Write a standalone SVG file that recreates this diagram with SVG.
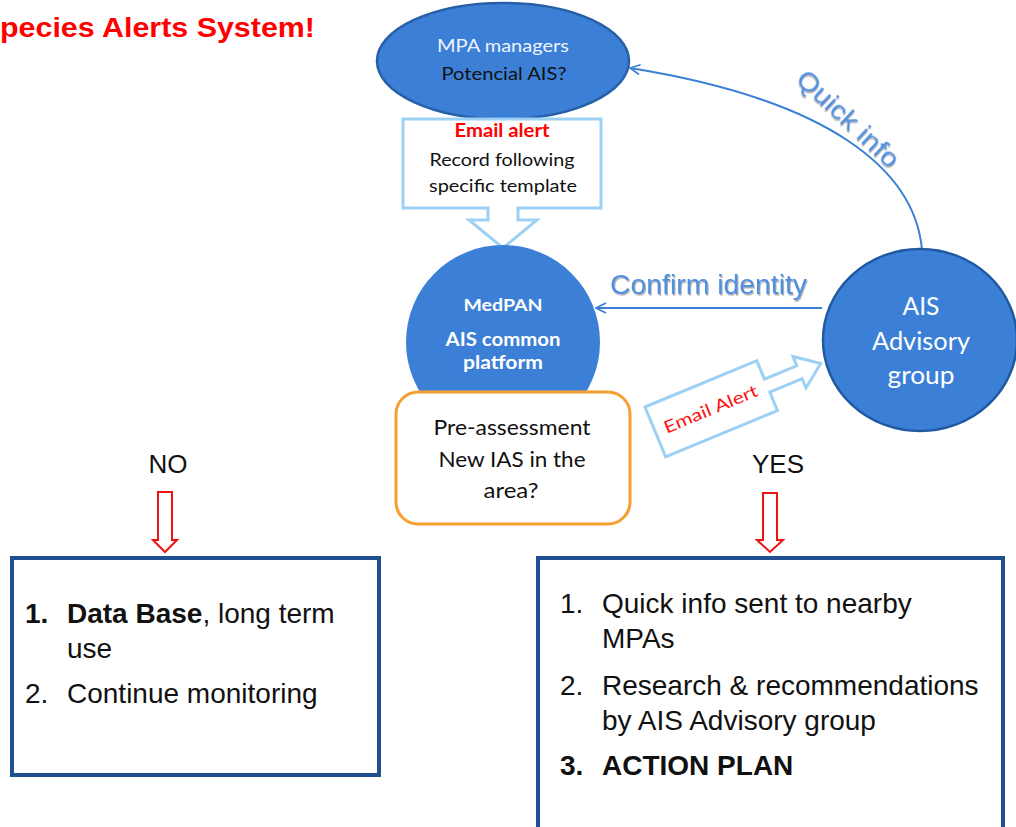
<svg xmlns="http://www.w3.org/2000/svg" width="1016" height="827" viewBox="0 0 1016 827">
<style>
.cal{font-family:Lato,"Open Sans","Liberation Sans",sans-serif}
.ar{font-family:"Liberation Sans",Arial,sans-serif}
.wt{fill:#ffffff}
.bk{fill:#111111}
.blueNode{fill:#3b80d6}
.conn{fill:none;stroke:#3b80d6;stroke-width:2}
.blk{fill:#ffffff;stroke:#9dd0f5;stroke-width:3;stroke-linejoin:miter}
.redArrow{fill:#ffffff;stroke:#ee1111;stroke-width:2}
.list{fill:#ffffff;stroke:#1f4e91;stroke-width:4}
.lbl{fill:#4f90e2;filter:url(#sh)}
</style>
<defs>
<marker id="open" viewBox="0 0 12 12" refX="11" refY="6" markerWidth="12" markerHeight="12" markerUnits="userSpaceOnUse" orient="auto">
<path d="M1,1 L11,6 L1,11" fill="none" stroke="#3b80d6" stroke-width="1.6"/>
</marker>
<filter id="sh" x="-10%" y="-20%" width="130%" height="150%">
<feDropShadow dx="1" dy="1.5" stdDeviation="0.6" flood-color="#777777" flood-opacity="0.6"/>
</filter>
</defs>
<rect width="1016" height="827" fill="#ffffff"/>

<g id="title">
<text class="ar" x="0" y="37" font-size="27" font-weight="bold" fill="#ff0000" textLength="315" lengthAdjust="spacingAndGlyphs">pecies Alerts System!</text>
</g>

<g id="connectors">
<path class="conn" d="M922,250 C915,170 830,100 630,68" marker-end="url(#open)"/>
<path class="conn" d="M822,308 L596,308" marker-end="url(#open)"/>
<text class="ar lbl" x="0" y="0" font-size="26" transform="translate(847,120) rotate(43)" text-anchor="middle" dominant-baseline="middle" textLength="130" lengthAdjust="spacingAndGlyphs">Quick info</text>
<text class="ar lbl" x="610" y="294" font-size="27" textLength="197" lengthAdjust="spacingAndGlyphs">Confirm identity</text>
<path class="redArrow" d="M158,492 H172 V540 H177 L165,552 L153,540 H158 Z"/>
<text class="ar bk" x="168" y="473" font-size="26" text-anchor="middle">NO</text>
<path class="redArrow" d="M763,493 H777 V540 H783 L770,552 L757,540 H763 Z"/>
<text class="ar bk" x="778" y="473" font-size="26" text-anchor="middle">YES</text>
</g>

<g id="mpa-managers">
<ellipse cx="503" cy="61" rx="126" ry="58" class="blueNode" stroke="#2860a8" stroke-width="2.5"/>
<text class="cal" x="503" y="52" font-size="18" text-anchor="middle" fill="#eef4ff" textLength="132" lengthAdjust="spacingAndGlyphs">MPA managers</text>
<text class="cal bk" x="504" y="80" font-size="18" text-anchor="middle" textLength="125" lengthAdjust="spacingAndGlyphs">Potencial AIS?</text>
</g>

<g id="email-alert-callout">
<path class="blk" d="M403,119 H601 V208 H518 V220 H537 L503,248 L469,220 H488 V208 H403 Z"/>
<text class="cal" x="502" y="137" font-size="18" font-weight="bold" fill="#ff0000" text-anchor="middle" textLength="95" lengthAdjust="spacingAndGlyphs">Email alert</text>
<text class="cal bk" x="502" y="166" font-size="18" text-anchor="middle" textLength="145" lengthAdjust="spacingAndGlyphs">Record following</text>
<text class="cal bk" x="503" y="192" font-size="18" text-anchor="middle" textLength="148" lengthAdjust="spacingAndGlyphs">specific template</text>
</g>

<g id="medpan">
<circle cx="503" cy="342" r="97" class="blueNode"/>
<text class="cal wt" x="503" y="311" font-size="17" font-weight="bold" text-anchor="middle" textLength="79" lengthAdjust="spacingAndGlyphs">MedPAN</text>
<text class="cal wt" x="503" y="346" font-size="18" font-weight="bold" text-anchor="middle" textLength="115" lengthAdjust="spacingAndGlyphs">AIS common</text>
<text class="cal wt" x="503" y="369" font-size="18" font-weight="bold" text-anchor="middle" textLength="80" lengthAdjust="spacingAndGlyphs">platform</text>
</g>

<g id="pre-assessment">
<rect x="396" y="392" width="234" height="132" rx="22" fill="#ffffff" stroke="#f5a030" stroke-width="3"/>
<text class="cal bk" x="512" y="435" font-size="21" text-anchor="middle" textLength="157" lengthAdjust="spacingAndGlyphs">Pre-assessment</text>
<text class="cal bk" x="512" y="467" font-size="21" text-anchor="middle" textLength="147" lengthAdjust="spacingAndGlyphs">New IAS in the</text>
<text class="cal bk" x="511" y="498" font-size="21" text-anchor="middle" textLength="55" lengthAdjust="spacingAndGlyphs">area?</text>
</g>

<g id="ais-advisory">
<ellipse cx="920" cy="340" rx="97" ry="91" class="blueNode" stroke="#1f5aa0" stroke-width="2.5"/>
<text class="cal wt" x="921" y="315" font-size="25" text-anchor="middle" textLength="37" lengthAdjust="spacingAndGlyphs">AIS</text>
<text class="cal wt" x="921" y="350" font-size="25" text-anchor="middle" textLength="98" lengthAdjust="spacingAndGlyphs">Advisory</text>
<text class="cal wt" x="921" y="384" font-size="25" text-anchor="middle" textLength="67" lengthAdjust="spacingAndGlyphs">group</text>
</g>

<g id="email-alert-arrow" transform="translate(645,407) rotate(-22.5)">
<path class="blk" d="M0,0 H121 V20 H156 V10 L179,27 L156,44 V34 H121 V54 H0 Z"/>
<text class="cal" x="60" y="33" font-size="17" fill="#ff1111" text-anchor="middle" textLength="100" lengthAdjust="spacingAndGlyphs">Email Alert</text>
</g>

<g id="no-box">
<rect x="12" y="558" width="367" height="217" class="list"/>
<text class="ar bk" font-size="28"><tspan x="25" y="623" font-weight="bold">1.</tspan><tspan x="67" y="623" font-weight="bold">Data Base</tspan><tspan>, long term</tspan></text>
<text class="ar bk" x="67" y="658" font-size="28">use</text>
<text class="ar bk" font-size="28"><tspan x="25" y="703">2.</tspan><tspan x="67" y="703">Continue monitoring</tspan></text>
</g>

<g id="yes-box">
<rect x="538" y="558" width="465" height="290" class="list"/>
<text class="ar bk" font-size="28"><tspan x="560" y="613">1.</tspan><tspan x="602" y="613">Quick info sent to nearby</tspan></text>
<text class="ar bk" x="602" y="648" font-size="28">MPAs</text>
<text class="ar bk" font-size="28"><tspan x="560" y="695">2.</tspan><tspan x="602" y="695">Research &amp; recommendations</tspan></text>
<text class="ar bk" x="602" y="730" font-size="28">by AIS Advisory group</text>
<text class="ar bk" font-size="28" font-weight="bold"><tspan x="560" y="775">3.</tspan><tspan x="602" y="775">ACTION PLAN</tspan></text>
</g>
</svg>
